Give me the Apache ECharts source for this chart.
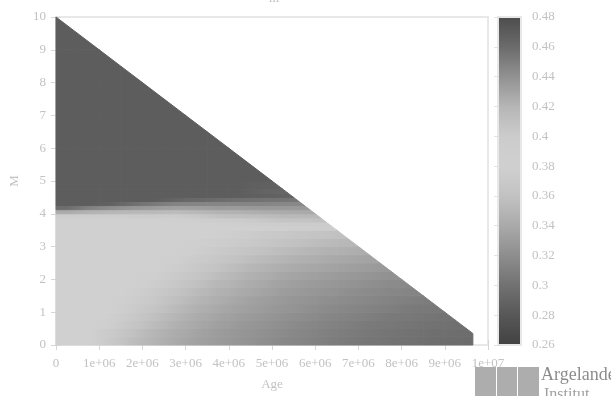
<!DOCTYPE html>
<html>
<head>
<meta charset="utf-8">
<script src="https://cdn.jsdelivr.net/npm/echarts@6/dist/echarts.min.js"></script>
<style>
  html, body { margin: 0; padding: 0; background: #ffffff; }
  #chart { width: 611px; height: 396px; }
</style>
</head>
<body>
<div id="chart"></div>
<script>
// Model grid: cell edges along Age (in units of 1e6) and along M
const ageEdgesMyr = [0, 0.5, 1, 1.5, 2, 2.5, 3, 3.5, 4, 4.5, 5, 5.5, 6, 6.5, 7, 7.5, 8, 8.5, 9, 9.5, 10];
const massEdges = [0, 0.25, 0.5, 0.75, 1, 1.25, 1.5, 1.75, 2, 2.25, 2.5, 2.75, 3, 3.25,
                   3.5, 3.625, 3.75, 3.875, 4, 4.125, 4.25, 4.375, 4.5, 4.625,
                   4.75, 5, 6, 7, 8, 9, 10];

// Extent of the computed models: oldest age and the Age/M limit line
const ageLimitMyr = 9.65;
const domainEdge = [[0, 10], [10, 0]];   // [age (1e6), M] end points

// Cell values, one row per M band (bottom to top), one entry per Age column
const rowValues = [
  [0.38,0.38,0.37,0.357,0.348,0.34,0.334,0.329,0.325,0.321,0.316,0.313,0.309,0.306,0.303,0.301,0.299,0.297,0.296,0.295],
  [0.38,0.38,0.372,0.36,0.35,0.342,0.336,0.33,0.326,0.322,0.318,0.314,0.31,0.307,0.304,0.302,0.3,0.298,0.297,0.296],
  [0.38,0.38,0.377,0.366,0.355,0.346,0.339,0.333,0.328,0.324,0.32,0.316,0.312,0.309,0.306,0.304,0.302,0.3,0.298],
  [0.38,0.38,0.379,0.37,0.359,0.35,0.342,0.336,0.331,0.327,0.323,0.319,0.315,0.312,0.309,0.306,0.304,0.302,0.3],
  [0.38,0.38,0.38,0.374,0.364,0.354,0.346,0.339,0.334,0.33,0.326,0.322,0.318,0.315,0.312,0.309,0.306,0.304],
  [0.38,0.38,0.38,0.377,0.368,0.358,0.35,0.343,0.337,0.332,0.328,0.324,0.321,0.318,0.315,0.312,0.309,0.307],
  [0.38,0.38,0.38,0.379,0.372,0.363,0.354,0.347,0.341,0.336,0.331,0.327,0.324,0.321,0.318,0.315,0.313],
  [0.38,0.38,0.38,0.38,0.376,0.368,0.359,0.351,0.345,0.339,0.334,0.33,0.327,0.324,0.321,0.318,0.316],
  [0.38,0.38,0.38,0.38,0.378,0.372,0.364,0.356,0.349,0.343,0.338,0.334,0.331,0.328,0.325,0.322],
  [0.38,0.38,0.38,0.38,0.38,0.376,0.369,0.361,0.354,0.348,0.343,0.339,0.336,0.333,0.33,0.327],
  [0.38,0.38,0.38,0.38,0.38,0.378,0.373,0.367,0.36,0.354,0.349,0.345,0.341,0.338,0.335],
  [0.38,0.38,0.38,0.38,0.38,0.38,0.377,0.372,0.366,0.36,0.355,0.351,0.347,0.344,0.341],
  [0.38,0.38,0.38,0.38,0.38,0.38,0.379,0.376,0.372,0.367,0.362,0.358,0.354,0.351],
  [0.38,0.38,0.38,0.38,0.38,0.38,0.38,0.379,0.376,0.372,0.368,0.364,0.361,0.358],
  [0.38,0.38,0.38,0.38,0.38,0.38,0.38,0.38,0.38,0.383,0.387,0.39,0.393],
  [0.38,0.38,0.38,0.38,0.38,0.38,0.38,0.383,0.388,0.393,0.397,0.399,0.401],
  [0.38,0.38,0.38,0.38,0.38,0.383,0.39,0.396,0.4,0.404,0.407,0.408,0.41],
  [0.393,0.395,0.396,0.398,0.399,0.399,0.404,0.409,0.412,0.414,0.417,0.418,0.419],
  [0.426,0.422,0.42,0.418,0.417,0.415,0.418,0.422,0.423,0.425,0.426,0.427],
  [0.459,0.449,0.443,0.438,0.435,0.432,0.433,0.435,0.435,0.436,0.436,0.436],
  [0.47,0.47,0.467,0.459,0.453,0.448,0.447,0.447,0.447,0.447,0.446,0.445],
  [0.47,0.47,0.47,0.47,0.47,0.465,0.462,0.46,0.458,0.457,0.456,0.455],
  [0.47,0.47,0.47,0.47,0.47,0.47,0.47,0.47,0.47,0.468,0.466],
  [0.47,0.47,0.47,0.47,0.47,0.47,0.47,0.47,0.47,0.466,0.464],
  [0.47,0.47,0.47,0.47,0.47,0.47,0.47,0.47,0.47,0.468,0.466],
  [0.47,0.47,0.47,0.47,0.47,0.47,0.47,0.47,0.47,0.47],
  [0.47,0.47,0.47,0.47,0.47,0.47,0.47,0.47],
  [0.47,0.47,0.47,0.47,0.47,0.47],
  [0.47,0.47,0.47,0.47],
  [0.47,0.47]
];

const xTickLabels = ['0', '1e+06', '2e+06', '3e+06', '4e+06', '5e+06', '6e+06', '7e+06', '8e+06', '9e+06', '1e+07'];
const yTickLabels = ['0', '1', '2', '3', '4', '5', '6', '7', '8', '9', '10'];
const cbTickLabels = ['0.26', '0.28', '0.3', '0.32', '0.34', '0.36', '0.38', '0.4', '0.42', '0.44', '0.46', '0.48'];
const cbRange = [0.26, 0.48];

// Gray palette, one stop per colour-box tick (0.26 ... 0.48)
const grayPalette = ['#424242', '#585858', '#727272', '#8e8e8e', '#aaaaaa', '#c2c2c2',
                     '#d0d0d0', '#cccccc', '#b6b6b6', '#929292', '#6c6c6c', '#4e4e4e'];

const textGray = '#c2c2c2';
const tickGray = '#d6d6d6';
const borderGray = '#e8e8e8';
const serif = 'Liberation Serif';

const cells = [];
rowValues.forEach((row, i) => {
  row.forEach((v, j) => {
    cells.push([ageEdgesMyr[j] * 1e6, ageEdgesMyr[j + 1] * 1e6, massEdges[i], massEdges[i + 1], v, i, j]);
  });
});

// Palette lookup used for the shading between neighbouring cells
const paletteLevels = grayPalette.map(c => parseInt(c.slice(1, 3), 16));
function grayFor(v) {
  const n = paletteLevels.length - 1;
  let t = (v - cbRange[0]) / (cbRange[1] - cbRange[0]) * n;
  t = Math.max(0, Math.min(n, t));
  const k = Math.min(n - 1, Math.floor(t));
  const g = Math.round(paletteLevels[k] + (paletteLevels[k + 1] - paletteLevels[k]) * (t - k));
  return 'rgb(' + g + ',' + g + ',' + g + ')';
}

// Clip a polygon (data space) against the half-plane g(p) >= 0
function clipPoly(poly, g) {
  const out = [];
  for (let k = 0; k < poly.length; k++) {
    const P = poly[k], Q = poly[(k + 1) % poly.length];
    const gp = g(P), gq = g(Q);
    if (gp >= 0) out.push(P);
    if ((gp >= 0) !== (gq >= 0)) {
      const t = gp / (gp - gq);
      out.push([P[0] + (Q[0] - P[0]) * t, P[1] + (Q[1] - P[1]) * t]);
    }
  }
  return out;
}
const A0 = domainEdge[0][0] * 1e6, M0 = domainEdge[0][1];
const A1 = domainEdge[1][0] * 1e6, M1 = domainEdge[1][1];
const belowEdge = p => ((p[0] - A0) * (M1 - M0) - (p[1] - M0) * (A1 - A0)) / 1e6;
const beforeLimit = p => (ageLimitMyr * 1e6 - p[0]) / 1e6;

function renderCell(params, api) {
  const a0 = api.value(0), a1 = api.value(1), m0 = api.value(2), m1 = api.value(3);
  const v = api.value(4), i = api.value(5), j = api.value(6);
  let poly = [[a0, m0], [a1, m0], [a1, m1], [a0, m1]];
  poly = clipPoly(poly, belowEdge);
  if (poly.length < 3) return null;
  poly = clipPoly(poly, beforeLimit);
  if (poly.length < 3) return null;
  const row = rowValues[i];
  const vL = j > 0 ? (row[j - 1] + v) / 2 : v;
  const vR = j < row.length - 1 ? (row[j + 1] + v) / 2 : v;
  const x0 = api.coord([a0, m0])[0], x1 = api.coord([a1, m0])[0];
  const fill = new echarts.graphic.LinearGradient(x0, 0, x1, 0, [
    { offset: 0, color: grayFor(vL) },
    { offset: 0.5, color: api.visual('color') },
    { offset: 1, color: grayFor(vR) }
  ], true);
  return {
    type: 'polygon',
    shape: { points: poly.map(p => api.coord(p)) },
    style: { fill: fill, stroke: fill, lineWidth: 1 }
  };
}

function renderColorBox(params, api) {
  const p0 = api.coord([api.value(0), api.value(3)]);
  const p1 = api.coord([api.value(2), api.value(1)]);
  const stops = grayPalette.map((c, k) => ({ offset: 1 - k / (grayPalette.length - 1), color: c }));
  stops.reverse();
  return {
    type: 'rect',
    shape: { x: p0[0] + 1, y: p0[1] + 1, width: p1[0] - p0[0] - 2, height: p1[1] - p0[1] - 2 },
    style: { fill: new echarts.graphic.LinearGradient(0, 0, 0, 1, stops) }
  };
}

const tickStyle = { show: true, inside: true, length: 5, lineStyle: { color: tickGray, width: 1 } };
const labelStyle = { color: textGray, fontFamily: serif, fontSize: 13 };

const chart = echarts.init(document.getElementById('chart'), null, { renderer: 'canvas' });
chart.setOption({
  backgroundColor: '#ffffff',
  animation: false,
  title: {
    text: 'm', left: 264, top: -13,
    textStyle: { color: textGray, fontFamily: serif, fontSize: 13, fontWeight: 'normal' }
  },
  grid: [
    { left: 53, top: 17, width: 435, height: 328, show: true, borderColor: borderGray, borderWidth: 2, backgroundColor: 'transparent' },
    { left: 498, top: 17, width: 23, height: 328, show: true, borderColor: borderGray, borderWidth: 2, backgroundColor: 'transparent' }
  ],
  xAxis: [
    {
      gridIndex: 0, type: 'value', min: 0, max: 1e7, interval: 1e6, position: 'bottom',
      axisLine: { show: false }, splitLine: { show: false }, axisTick: tickStyle,
      axisLabel: Object.assign({ margin: 12, formatter: v => xTickLabels[Math.round(v / 1e6)] }, labelStyle),
      name: 'Age', nameLocation: 'middle', nameGap: 33,
      nameTextStyle: { color: textGray, fontFamily: serif, fontSize: 13 }
    },
    {
      gridIndex: 0, type: 'value', min: 0, max: 1e7, interval: 1e6, position: 'top',
      axisLine: { show: false }, splitLine: { show: false }, axisTick: tickStyle, axisLabel: { show: false }
    },
    { gridIndex: 1, type: 'value', min: 0, max: 1, show: false }
  ],
  yAxis: [
    {
      gridIndex: 0, type: 'value', min: 0, max: 10, interval: 1, position: 'left',
      axisLine: { show: false }, splitLine: { show: false }, axisTick: tickStyle,
      axisLabel: Object.assign({ margin: 10, formatter: v => yTickLabels[Math.round(v)] }, labelStyle),
      name: 'M', nameLocation: 'middle', nameGap: 35, nameRotate: 90,
      nameTextStyle: { color: textGray, fontFamily: serif, fontSize: 13 }
    },
    {
      gridIndex: 0, type: 'value', min: 0, max: 10, interval: 1, position: 'right',
      axisLine: { show: false }, splitLine: { show: false }, axisTick: tickStyle, axisLabel: { show: false }
    },
    {
      gridIndex: 1, type: 'value', min: cbRange[0], max: cbRange[1], interval: 0.02, position: 'right',
      axisLine: { show: false }, splitLine: { show: false },
      axisTick: { show: true, inside: true, length: 4, lineStyle: { color: '#e2e2e2', width: 1 } },
      axisLabel: Object.assign({ margin: 11, formatter: v => cbTickLabels[Math.round((v - cbRange[0]) / 0.02)] }, labelStyle)
    },
    {
      gridIndex: 1, type: 'value', min: cbRange[0], max: cbRange[1], interval: 0.02, position: 'left',
      axisLine: { show: false }, splitLine: { show: false },
      axisTick: { show: true, inside: true, length: 4, lineStyle: { color: '#e2e2e2', width: 1 } },
      axisLabel: { show: false }
    }
  ],
  visualMap: {
    type: 'continuous', show: false, seriesIndex: 0, dimension: 4,
    min: cbRange[0], max: cbRange[1], inRange: { color: grayPalette }
  },
  series: [
    {
      type: 'custom', xAxisIndex: 0, yAxisIndex: 0, renderItem: renderCell,
      encode: { x: [0, 1], y: [2, 3] }, data: cells, z: 1
    },
    {
      type: 'custom', xAxisIndex: 2, yAxisIndex: 2, renderItem: renderColorBox,
      encode: { x: [0, 2], y: [1, 3] }, data: [[0, cbRange[0], 1, cbRange[1]]], z: 1
    }
  ],
  graphic: [
    {
      type: 'group', left: 475, top: 366,
      children: [
        { type: 'rect', shape: { x: 0, y: 0, width: 21, height: 30 }, style: { fill: '#adadad' } },
        { type: 'rect', shape: { x: 22, y: 0, width: 20, height: 30 }, style: { fill: '#adadad' } },
        { type: 'rect', shape: { x: 43, y: 0, width: 21, height: 30 }, style: { fill: '#adadad' } },
        { type: 'text', x: 66, y: -1, style: { text: 'Argelander', fill: '#8c8c8c', font: '18px "Liberation Serif"' } },
        { type: 'text', x: 69, y: 20, style: { text: 'Institut', fill: '#a0a0a0', font: '16px "Liberation Serif"' } }
      ]
    }
  ]
});
</script>
</body>
</html>
